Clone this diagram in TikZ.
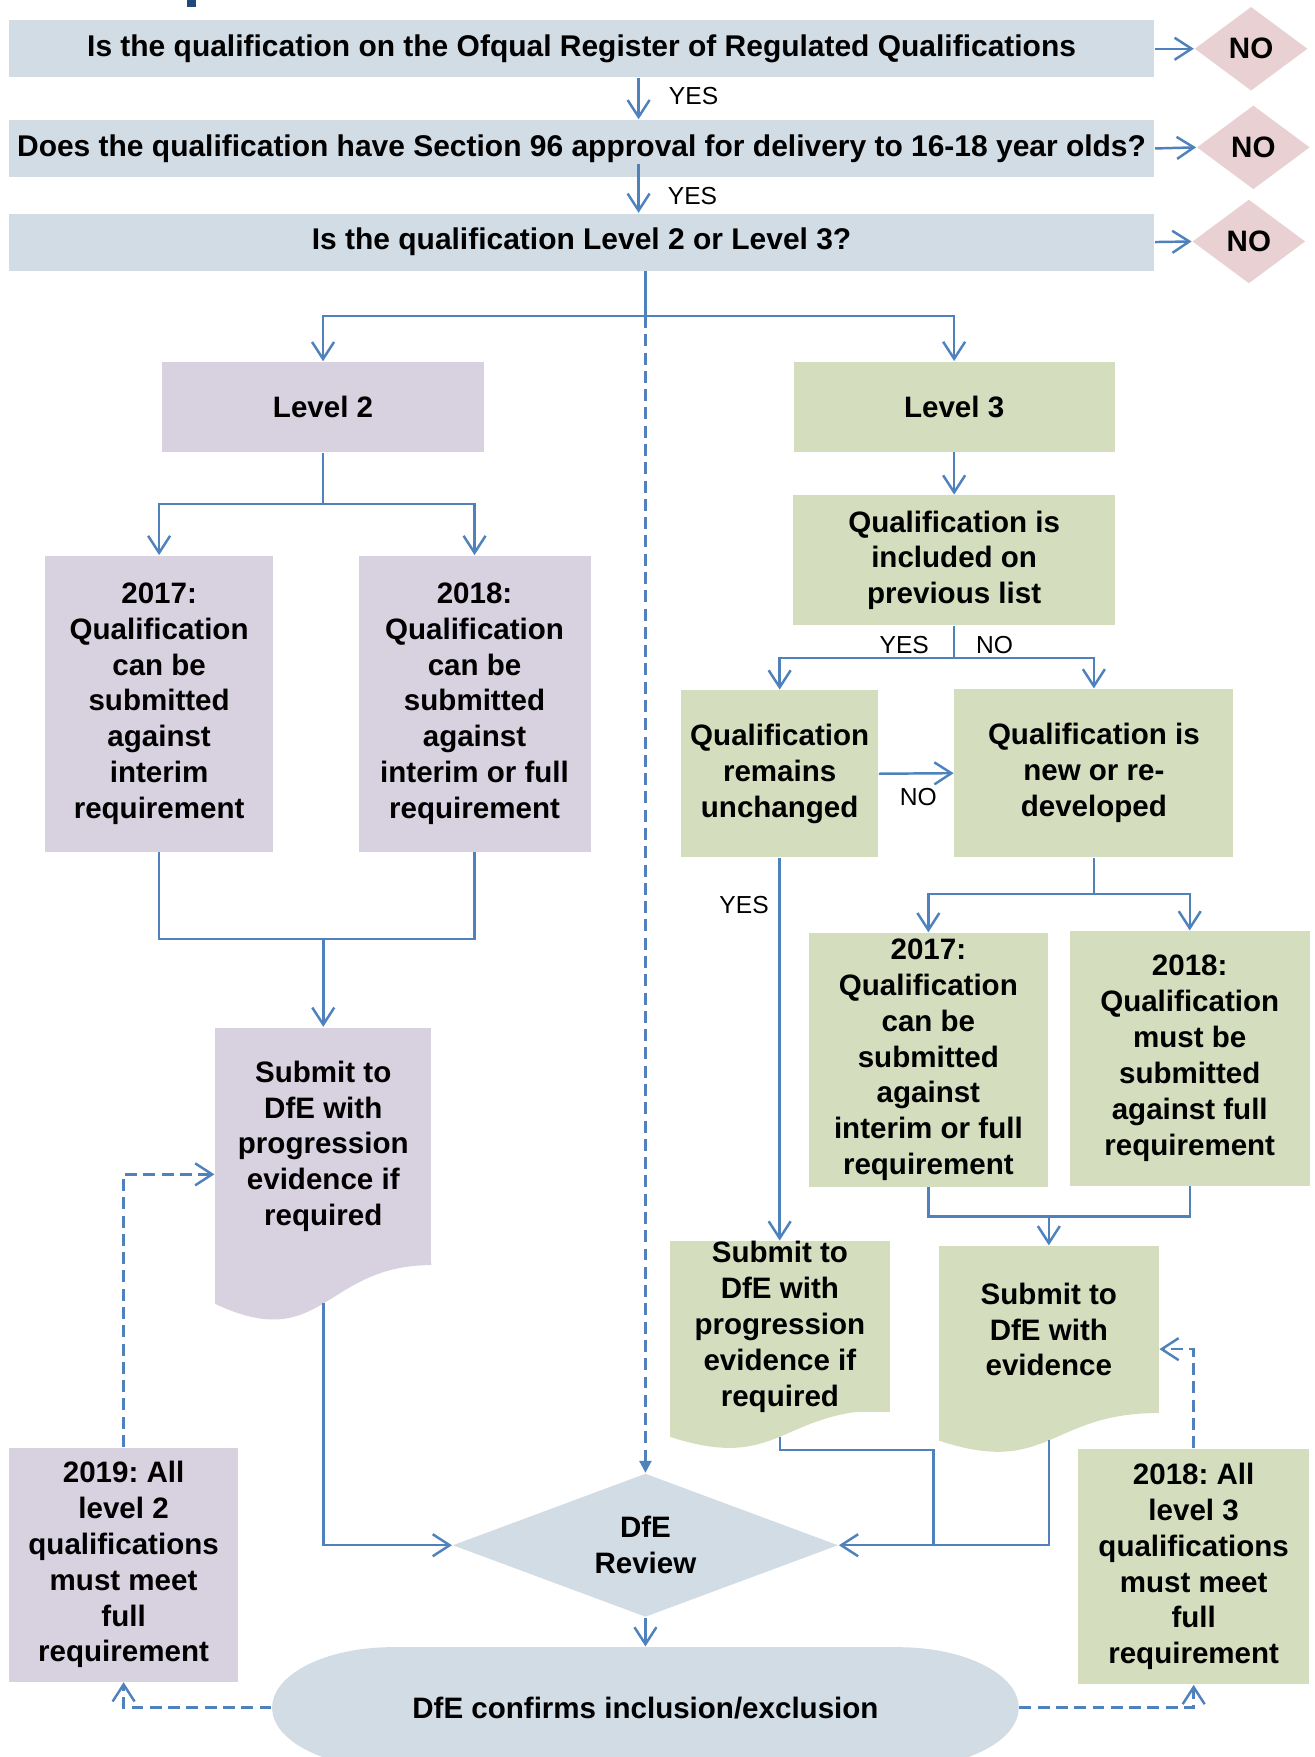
\documentclass[tikz,border=0pt]{standalone}
\usepackage{fontspec}
\setmainfont{Liberation Sans}
\usetikzlibrary{shapes.geometric,arrows.meta}
\frenchspacing

\definecolor{barblue}{RGB}{209,220,229}
\definecolor{nopink}{RGB}{232,208,211}
\definecolor{lavender}{RGB}{216,209,224}
\definecolor{sage}{RGB}{212,222,190}
\definecolor{linkblue}{RGB}{79,129,189}
\definecolor{titleblue}{RGB}{31,73,125}

\newcommand{\boxfont}{\fontsize{8.4}{10.2}\selectfont\bfseries}
\newcommand{\barfont}{\fontsize{8.52}{10.2}\selectfont\bfseries}

\begin{document}
\begin{tikzpicture}[x=0.011202cm, y=-0.011202cm,
  qbar/.style={rectangle, fill=barblue, minimum width=11.45cm, minimum height=0.57cm, inner sep=0pt, font=\barfont},
  nodiam/.style={diamond, aspect=1.3, fill=nopink, minimum width=1.13cm, minimum height=0.84cm, inner sep=0pt, font=\boxfont},
  twobox/.style={rectangle, fill=lavender, inner sep=0pt, align=center, font=\boxfont},
  threebox/.style={rectangle, fill=sage, inner sep=0pt, align=center, font=\boxfont},
  answer/.style={inner sep=0pt, font=\fontsize{7}{8}\selectfont},
  link/.style={draw=linkblue, line width=0.7pt},
  arr/.style={link, -{Straight Barb[length=1.7mm,width=2.2mm]}},
  dasharr/.style={arr, dash pattern=on 3.4pt off 1.8pt},
  revarr/.style={link, dash pattern=on 3.4pt off 1.8pt, -{Triangle[length=1.2mm,width=1.2mm]}},
]
\useasboundingbox (0,0) rectangle (1173,1568);
\fill[titleblue] (167,0) rectangle (175,6);

\node[qbar] (reg) at (519,43.5) {Is the qualification on the Ofqual Register of Regulated Qualifications};
\node[qbar] (sec) at (519,132.5) {Does the qualification have Section 96 approval for delivery to 16-18 year olds?};
\node[qbar] (lvl) at (519,216) {Is the qualification Level 2 or Level 3?};
\node[nodiam] (no1) at (1116.5,43.5) {NO};
\node[nodiam] (no2) at (1118.5,131.5) {NO};
\node[nodiam] (no3) at (1114.5,215.5) {NO};
\node[answer] (yes1) at (619,86) {YES};
\node[answer] (yes2) at (618,175) {YES};

\node[twobox, minimum width=3.21cm, minimum height=0.90cm] (lvl2) at (288.3,363.2) {Level 2};
\node[threebox, minimum width=3.21cm, minimum height=0.90cm] (lvl3) at (851.5,363) {Level 3};

\node[twobox, minimum width=2.285cm, minimum height=2.957cm] (p17) at (142,628) {2017:\\Qualification\\can be\\submitted\\against\\interim\\requirement};
\node[twobox, minimum width=2.319cm, minimum height=2.957cm] (p18) at (423.5,628) {2018:\\Qualification\\can be\\submitted\\against\\interim or full\\requirement};

\fill[lavender] (192,1127) -- (385,1127) -- (385,1129) .. controls (288.5,1129) and (288.5,1209) .. (192,1163.6) -- cycle;
\node[twobox, minimum width=2.162cm, minimum height=2.375cm] (sub2) at (288.5,1023) {Submit to\\DfE with\\progression\\evidence if\\required};
\coordinate (sub2b) at (288.5,1163);

\node[twobox, minimum width=2.291cm, minimum height=2.337cm] (y19) at (110.3,1396.3) {2019: All\\level 2\\qualifications\\must meet\\full\\requirement};

\node[threebox, minimum width=3.215cm, minimum height=1.299cm] (incl) at (851.5,500) {Qualification is\\included on\\previous list};
\node[threebox, minimum width=1.967cm, minimum height=1.669cm] (rem) at (695.8,690.5) {Qualification\\remains\\unchanged};
\node[threebox, minimum width=2.789cm, minimum height=1.680cm] (new) at (976.2,690) {Qualification is\\new or re-\\developed};
\node[answer] (yes3) at (807,576) {YES};
\node[answer] (no4) at (887.5,576) {NO};
\node[answer] (no5) at (819.5,711) {NO};
\node[answer] (yes4) at (664,808) {YES};

\node[threebox, minimum width=2.386cm, minimum height=2.536cm] (g17) at (828.5,945.8) {2017:\\Qualification\\can be\\submitted\\against\\interim or full\\requirement};
\node[threebox, minimum width=2.403cm, minimum height=2.543cm] (g18) at (1061.75,944.5) {2018:\\Qualification\\must be\\submitted\\against full\\requirement};

\fill[sage] (598,1256) -- (794,1256) -- (794,1258) .. controls (696,1258) and (696,1314.3) .. (598,1282.3) -- cycle;
\node[threebox, minimum width=2.196cm, minimum height=1.658cm] (subg) at (696,1184) {Submit to\\DfE with\\progression\\evidence if\\required};
\coordinate (subgb) at (696,1282);

\fill[sage] (838,1259) -- (1034,1259) -- (1034,1261) .. controls (936,1261) and (936,1318) .. (838,1285.7) -- cycle;
\node[threebox, minimum width=2.196cm, minimum height=1.669cm] (sube) at (936,1186.5) {Submit to\\DfE with\\evidence};
\coordinate (subeb) at (936,1285);

\node[threebox, minimum width=2.313cm, minimum height=2.352cm] (a18) at (1065.25,1398) {2018: All\\level 3\\qualifications\\must meet\\full\\requirement};

\node[diamond, aspect=2.7, fill=barblue, minimum width=3.853cm, minimum height=1.434cm, inner sep=0pt, align=center, font=\boxfont] (review) at (576,1379) {DfE\\Review};

\fill[barblue] (350,1470) -- (802,1470) arc[start angle=90, end angle=-90, x radius=1.2cm, y radius=0.605cm] -- (350,1578) arc[start angle=270, end angle=90, x radius=1.2cm, y radius=0.605cm] -- cycle;
\node[font=\boxfont, minimum width=7.461cm, minimum height=1.21cm, inner sep=0pt] (conf) at (576,1524) {DfE confirms inclusion/exclusion};

\draw[arr] (reg.east) -- (no1.west);
\draw[arr] (sec.east) -- (no2.west);
\draw[arr] (lvl.east) -- (no3.west);
\draw[arr] ([xshift=0.57cm]reg.south) -- ([xshift=0.57cm]sec.north);
\draw[arr] ([xshift=0.57cm,yshift=0.14cm]sec.south) -- ([xshift=0.57cm]lvl.north);

\coordinate (fork) at (576,282);
\draw[link] (lvl.south -| fork) -- (fork);
\draw[arr] (fork) -| (lvl2.north);
\draw[arr] (fork) -| (lvl3.north);
\draw[revarr] (fork) -- (review.north);

\coordinate (fork2) at (288.3,450);
\draw[link] (lvl2.south) -- (fork2);
\draw[arr] (fork2) -| (p17.north);
\draw[arr] (fork2) -| (p18.north);
\coordinate (join2) at (288.5,838);
\draw[link] (p17.south) |- (join2);
\draw[link] (p18.south) |- (join2);
\draw[arr] (join2) -- (sub2.north);
\draw[arr] (sub2b) |- (review.west);
\draw[dasharr] (y19.north) |- ([yshift=-0.28cm]sub2.west);
\draw[dasharr] (conf.west) -| (y19.south);

\draw[arr] (lvl3.south) -- (incl.north);
\coordinate (fork3) at (851.5,587);
\draw[link] (incl.south) -- (fork3);
\draw[arr] (fork3) -| (rem.north);
\draw[arr] (fork3) -| (new.north);
\draw[arr] (rem.east) -- (new.west);
\draw[arr] (rem.south) -- (rem.south |- subg.north);
\coordinate (fork4) at (976.2,798);
\draw[link] (new.south) -- (fork4);
\draw[arr] (fork4) -| (g17.north);
\draw[arr] (fork4) -| (g18.north);
\coordinate (join3) at (936,1085.5);
\draw[link] (g17.south) |- (join3);
\draw[link] (g18.south) |- (join3);
\draw[arr] (join3) -- (sube.north);
\coordinate (merge) at (833,1379);
\draw[link] (subgb) -- ++(0,12) -| (merge);
\draw[arr] (subeb) |- (review.east);
\draw[dasharr] (a18.north) |- ([yshift=-0.196cm]sube.east);
\draw[dasharr] (conf.east) -| (a18.south);

\draw[arr] (review.south) -- (conf.north);
\end{tikzpicture}
\end{document}
